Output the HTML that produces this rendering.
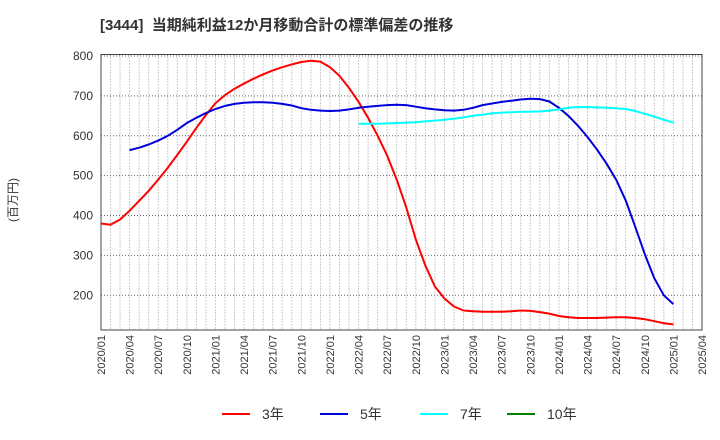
<!DOCTYPE html>
<html><head><meta charset="utf-8">
<style>
body{margin:0;background:#fff;}
svg{display:block;font-family:"Liberation Sans","Noto Sans CJK JP",sans-serif;}
</style></head>
<body>
<svg id="chart" width="720" height="440" xmlns="http://www.w3.org/2000/svg">
<text x="100" y="30" font-size="15" font-weight="bold" fill="#333" xml:space="preserve">[3444]  当期純利益12か月移動合計の標準偏差の推移</text>
<text transform="translate(17,200) rotate(-90)" text-anchor="middle" font-size="12" fill="#333">(百万円)</text>
<g id="grid"></g>
<g id="axes"></g>
<g id="series"></g>
<g id="legend"></g>
</svg>
<script>
const yTicks=[200,300,400,500,600,700,800];
const xTickLabels=["2020/01","2020/04","2020/07","2020/10","2021/01","2021/04","2021/07","2021/10","2022/01","2022/04","2022/07","2022/10","2023/01","2023/04","2023/07","2023/10","2024/01","2024/04","2024/07","2024/10","2025/01","2025/04"];
const s3=[380,377,390,412,437,462,490,520,552,585,620,652,682,702,718,731,743,754,764,772,779,785,788,786,772,750,720,685,645,600,550,490,420,340,275,222,192,172,162,160,159,159,159,160,162,161,158,154,148,145,143,143,143,144,145,145,143,140,135,130,127];
const s3Start=0;
const s5=[564,570,578,588,600,615,632,645,657,667,675,680,683,684,684,683,680,676,669,665,663,662,663,666,670,673,675,677,678,677,673,669,666,664,663,665,670,677,681,685,688,691,693,692,686,670,650,625,597,565,530,490,438,372,303,243,200,178];
const s5Start=3;
const s7=[630,630,630,631,632,633,634,636,638,640,643,646,650,653,656,658,659,660,660,661,663,666,670,672,672,671,670,669,667,662,655,648,640,633];
const s7Start=27;
const s10=[];
const s10Start=0;

const NS="http://www.w3.org/2000/svg";
const L=101,R=702,T=54.5,B=330;
const x=m=>L+m*(R-L)/63;
const y=v=>56+(800-v)*(295.3-56)/600;
function mk(tag,attrs,parent){const e=document.createElementNS(NS,tag);for(const k in attrs)e.setAttribute(k,attrs[k]);parent.appendChild(e);return e;}
const grid=document.getElementById('grid'),axes=document.getElementById('axes'),series=document.getElementById('series'),legend=document.getElementById('legend');
for(let m=1;m<63;m++){
  const g=mk('line',{x1:x(m),x2:x(m),y1:T,y2:B,stroke:'#999','stroke-dasharray':'1,2','stroke-width':1},grid);
  
  
}
yTicks.forEach(v=>{
  const g=mk('line',{x1:L,x2:R,y1:y(v),y2:y(v),stroke:'#666','stroke-dasharray':'1,2','stroke-width':1},grid);
  
  
  const t=mk('text',{x:L-8,y:y(v)+4,'text-anchor':'end','font-size':12,fill:'#333'},axes);
  t.textContent=v;
  
  
});
const frame=mk('rect',{x:L,y:T,width:R-L,height:B-T,fill:'none',stroke:'#444','stroke-width':1},axes);


xTickLabels.forEach((lab,i)=>{
  const px=x(i*3);
  const t=mk('text',{transform:`translate(${px+4},${B+5}) rotate(-90)`,'text-anchor':'end','font-size':11,fill:'#333'},axes);
  t.textContent=lab;
  
  
});
function line(data,start,color,name){
  if(!data.length)return;
  const pts=data.map((v,i)=>x(start+i).toFixed(1)+','+y(v).toFixed(1)).join(' ');
  const p=mk('polyline',{points:pts,fill:'none',stroke:color,'stroke-width':2,'stroke-linejoin':'round'},series);
  
  
}
line(s3,s3Start,'#ff0000','series-3y');
line(s5,s5Start,'#0000dd','series-5y');
line(s7,s7Start,'#00ffff','series-7y');
line(s10,s10Start,'#008000','series-10y');
const leg=[['3年','#ff0000',222],['5年','#0000dd',320],['7年','#00ffff',420],['10年','#008000',507]];
leg.forEach(([lab,c,lx])=>{
  const g=mk('g',{},legend);
  
  
  mk('line',{x1:lx,x2:lx+28,y1:414,y2:414,stroke:c,'stroke-width':2},g);
  const t=mk('text',{x:lx+40,y:419,'font-size':14,fill:'#333'},g);
  t.textContent=lab;
});
</script>
</body></html>
